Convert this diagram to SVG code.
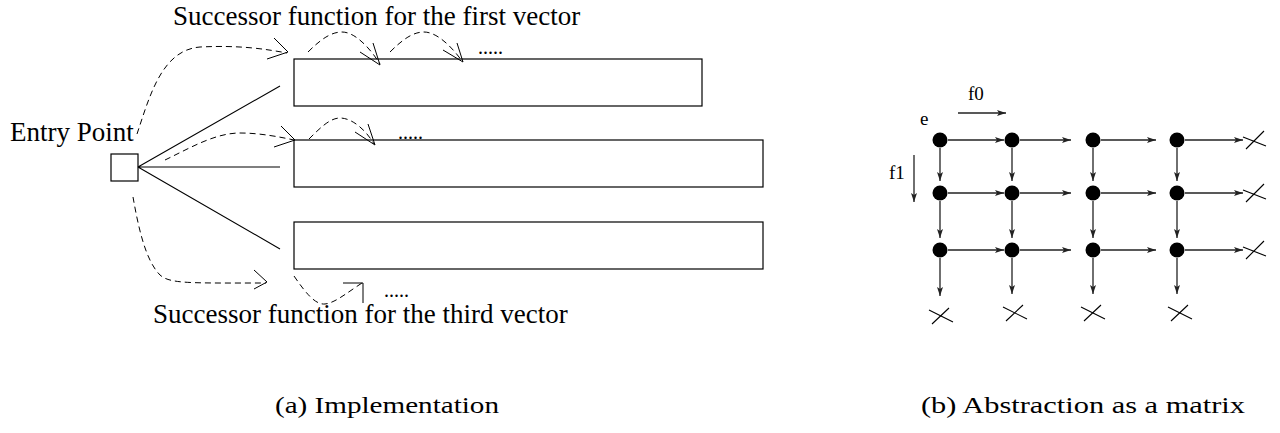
<svg xmlns="http://www.w3.org/2000/svg" width="1280" height="433" viewBox="0 0 1280 433">
<defs>
<style>
.t{font-family:"Liberation Serif","Times New Roman",serif;fill:#000}
.big{font-size:27px}
.small{font-size:19px}
.dots{font-size:20px}
.cap{font-size:23px}
.box{fill:#fff;stroke:#000;stroke-width:1.2}
.ln{fill:none;stroke:#000;stroke-width:1.1}
.ds{fill:none;stroke:#000;stroke-width:1;stroke-dasharray:6 4}
.ah{fill:none;stroke:#000;stroke-width:1}
.ar{fill:none;stroke:#222;stroke-width:1.3;marker-end:url(#tri)}
.nd{fill:#000}
.xm{fill:none;stroke:#000;stroke-width:1.1}
</style>
<marker id="tri" markerUnits="userSpaceOnUse" markerWidth="10" markerHeight="8" refX="9" refY="4" orient="auto">
<path d="M0,1 L9,4 L0,7 L2,4 Z" fill="#222"/>
</marker>
<path id="xr" class="xm" d="M-9,9 L9,-9 M-12,-3 L11,6"/>
<path id="xb" class="xm" d="M-9,8 L8,-8 M-12,-6 L12,6"/>
</defs>
<rect width="1280" height="433" fill="#fff"/>

<g id="labels">
<text class="t big" x="173" y="25">Successor function for the first vector</text>
<text class="t big" x="153" y="323">Successor function for the third vector</text>
<text class="t big" x="10" y="141">Entry Point</text>
<text class="t dots" x="478" y="54">.....</text>
<text class="t dots" x="398" y="139">.....</text>
<text class="t dots" x="384" y="297">.....</text>
<text class="t small" x="920" y="125">e</text>
<text class="t small" x="968" y="100">f0</text>
<text class="t small" x="889" y="179">f1</text>
<text class="t cap" x="275" y="413" textLength="224" lengthAdjust="spacingAndGlyphs">(a) Implementation</text>
<text class="t cap" x="921" y="413" textLength="324" lengthAdjust="spacingAndGlyphs">(b) Abstraction as a matrix</text>
</g>

<g id="entry-point"><rect class="box" x="111" y="154" width="27" height="27"/></g>
<g id="vector-1"><rect class="box" x="294" y="59" width="408" height="47"/></g>
<g id="vector-2"><rect class="box" x="294" y="140" width="469" height="47"/></g>
<g id="vector-3"><rect class="box" x="294" y="222" width="469" height="47"/></g>

<g id="connectors">
<path class="ln" d="M138,167 L280,86 M138,167 L280,167 M138,167 L280,249"/>
<path class="ds" d="M137,134 C150,95 162,50 200,47 C240,45 265,49 287,53"/>
<path class="ah" d="M274,38 L288,52 L267,59"/>
<path class="ds" d="M308,52 C322,38 332,32 342,32 C355,32 370,48 380,64"/>
<path class="ah" d="M360,52 L380,65 L373,43"/>
<path class="ds" d="M390,52 C404,38 414,32 424,32 C437,32 452,47 462,61"/>
<path class="ah" d="M443,50 L463,62 L457,43"/>
<path class="ds" d="M165,160 C190,148 215,133 240,133 C260,133 280,137 294,140"/>
<path class="ah" d="M281,126 L295,140 L274,147"/>
<path class="ds" d="M309,139 C320,128 330,118 340,118 C352,118 366,130 374,144"/>
<path class="ah" d="M355,132 L375,145 L368,124"/>
<path class="ds" d="M133,197 C138,225 145,260 160,275 C170,284 190,283 266,283"/>
<path class="ah" d="M254,270 L267,282 L254,289"/>
<path class="ds" d="M294,276 C305,292 315,305 325,304 C335,303 348,292 362,283"/>
<path class="ah" d="M343,283 L363,283 L363,303"/>

<path class="ar" d="M958,113 L1006,113"/>
<path class="ar" d="M914,155 L914,202"/>

<path class="ar" d="M948,140 L1004,140"/><path class="ar" d="M1020,140 L1071,140"/><path class="ar" d="M1101,140 L1156,140"/><path class="ar" d="M1185,140 L1243,140"/>
<path class="ar" d="M948,193 L1004,193"/><path class="ar" d="M1020,193 L1071,193"/><path class="ar" d="M1101,193 L1156,193"/><path class="ar" d="M1185,193 L1243,193"/>
<path class="ar" d="M948,250 L1004,250"/><path class="ar" d="M1020,250 L1071,250"/><path class="ar" d="M1101,250 L1156,250"/><path class="ar" d="M1185,250 L1243,250"/>

<path class="ar" d="M940,148 L940,181"/><path class="ar" d="M940,201 L940,238"/><path class="ar" d="M940,258 L940,296"/>
<path class="ar" d="M1012,148 L1012,181"/><path class="ar" d="M1012,201 L1012,238"/><path class="ar" d="M1012,258 L1012,294"/>
<path class="ar" d="M1093,148 L1093,181"/><path class="ar" d="M1093,201 L1093,238"/><path class="ar" d="M1093,258 L1093,294"/>
<path class="ar" d="M1177,148 L1177,181"/><path class="ar" d="M1177,201 L1177,238"/><path class="ar" d="M1177,258 L1177,294"/>

<use href="#xr" x="1255" y="140"/><use href="#xr" x="1255" y="193"/><use href="#xr" x="1255" y="250"/>
<use href="#xb" x="941" y="316"/><use href="#xb" x="1015" y="313"/><use href="#xb" x="1093" y="313"/><use href="#xb" x="1180" y="313"/>
</g>

<g id="matrix-nodes">
<g id="n00"><circle class="nd" cx="940" cy="140" r="7.5"/></g>
<g id="n01"><circle class="nd" cx="1012" cy="140" r="7.5"/></g>
<g id="n02"><circle class="nd" cx="1093" cy="140" r="7.5"/></g>
<g id="n03"><circle class="nd" cx="1177" cy="140" r="7.5"/></g>
<g id="n10"><circle class="nd" cx="940" cy="193" r="7.5"/></g>
<g id="n11"><circle class="nd" cx="1012" cy="193" r="7.5"/></g>
<g id="n12"><circle class="nd" cx="1093" cy="193" r="7.5"/></g>
<g id="n13"><circle class="nd" cx="1177" cy="193" r="7.5"/></g>
<g id="n20"><circle class="nd" cx="940" cy="250" r="7.5"/></g>
<g id="n21"><circle class="nd" cx="1012" cy="250" r="7.5"/></g>
<g id="n22"><circle class="nd" cx="1093" cy="250" r="7.5"/></g>
<g id="n23"><circle class="nd" cx="1177" cy="250" r="7.5"/></g>
</g>
</svg>
